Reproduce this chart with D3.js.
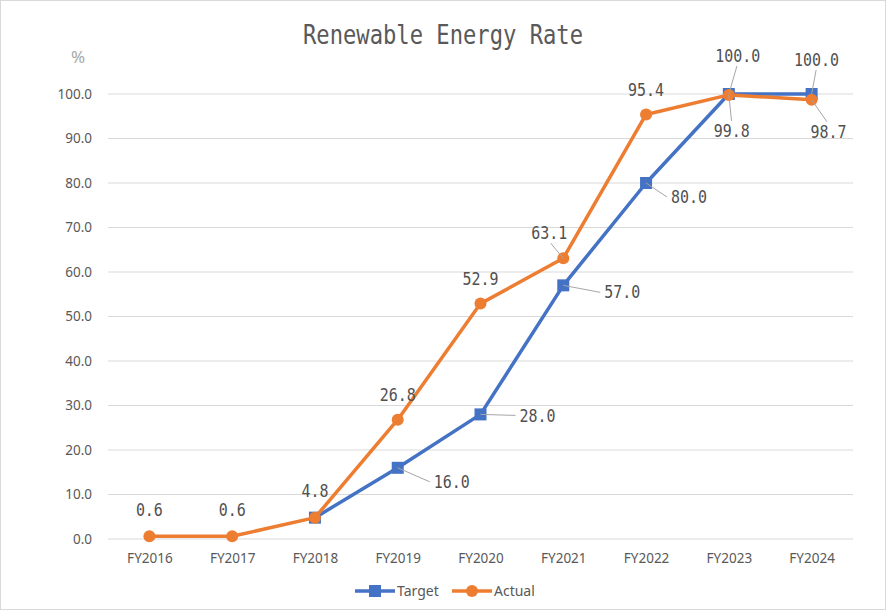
<!DOCTYPE html>
<html><head><meta charset="utf-8">
<script src="https://cdn.jsdelivr.net/npm/d3@7"></script>
<style>body{margin:0;background:#fff}svg{display:block}</style>
</head><body>
<svg id="c" width="886" height="610"></svg>
<script>
const categories = ["FY2016","FY2017","FY2018","FY2019","FY2020","FY2021","FY2022","FY2023","FY2024"];
const target = [null, null, 4.8, 16.0, 28.0, 57.0, 80.0, 100.0, 100.0];
const actual = [0.6, 0.6, 4.8, 26.8, 52.9, 63.1, 95.4, 99.8, 98.7];
const yTicks = [0,10,20,30,40,50,60,70,80,90,100];
// label placement (style): [dx, dy] of label center from point, and leader line flag
const targetLabelPos = [null, null, null, [54,14,true], [57,1,true], [59,7,true], [43,14,true], [9,-38,true], [5,-34,true]];
const actualLabelPos = [[0,-26,false],[0,-26,false],[0,-27,false],[0,-25,false],[0,-25,false],[-14,-25,true],[0,-25,false],[3,36,true],[17,32,true]];

const svg = d3.select("#c");
const W = 886, H = 610;
svg.append("rect").attr("x",0.5).attr("y",0.5).attr("width",W-1).attr("height",H-1)
  .attr("fill","#fff").attr("stroke","#d9d9d9");

const x = d3.scalePoint().domain(categories).range([108,853]).padding(0.5);
const y = d3.scaleLinear().domain([0,100]).range([539,94]);

svg.append("g").selectAll("line").data(yTicks).join("line")
  .attr("x1",108).attr("x2",853).attr("y1",d=>y(d)).attr("y2",d=>y(d))
  .attr("stroke","#d9d9d9").attr("stroke-width",1);

const yAxis = d3.axisLeft(y).tickValues(yTicks).tickFormat(d3.format(".1f")).tickSize(0).tickPadding(0);
const gy = svg.append("g").attr("transform","translate(92,0)").call(yAxis);
gy.select(".domain").remove();
gy.selectAll("text").attr("font-family","'Noto Sans', sans-serif").attr("font-size",13.5).attr("fill","#595959");

const xAxis = d3.axisBottom(x).tickSize(0).tickPadding(0);
const gx = svg.append("g").attr("transform","translate(0,553)").call(xAxis);
gx.select(".domain").remove();
gx.selectAll("text").attr("font-family","'Noto Sans', sans-serif").attr("font-size",13.5).attr("fill","#595959");

svg.append("text").attr("x",443).attr("y",44).attr("text-anchor","middle")
  .attr("font-family","'DejaVu Sans Mono', monospace").attr("font-size",27).attr("fill","#595959")
  .attr("textLength",280).attr("lengthAdjust","spacingAndGlyphs")
  .text("Renewable Energy Rate");
svg.append("text").attr("x",78).attr("y",63).attr("text-anchor","middle")
  .attr("font-family","'Noto Sans', sans-serif").attr("font-size",17).attr("fill","#a6a6a6").text("%");

const blue = "#4472C4", orange = "#ED7D31";
const line = d3.line().defined(d=>d.v!=null).x(d=>x(d.c)).y(d=>y(d.v));
const tData = categories.map((c,i)=>({c, v: target[i], i}));
const aData = categories.map((c,i)=>({c, v: actual[i], i}));

svg.append("path").datum(tData).attr("d",line).attr("fill","none").attr("stroke",blue).attr("stroke-width",3.5).attr("stroke-linejoin","round");
svg.append("g").selectAll("rect").data(tData.filter(d=>d.v!=null)).join("rect")
  .attr("x",d=>x(d.c)-6).attr("y",d=>y(d.v)-6).attr("width",12).attr("height",12).attr("fill",blue);

svg.append("path").datum(aData).attr("d",line).attr("fill","none").attr("stroke",orange).attr("stroke-width",3.5).attr("stroke-linejoin","round");
svg.append("g").selectAll("circle").data(aData).join("circle")
  .attr("cx",d=>x(d.c)).attr("cy",d=>y(d.v)).attr("r",6).attr("fill",orange);

function drawLabels(data, pos){
  const g = svg.append("g");
  data.forEach(d=>{
    const p = pos[d.i];
    if(d.v==null || !p) return;
    const s = d3.format(".1f")(d.v);
    const px = x(d.c), py = y(d.v);
    const lx = px + p[0], ly = py + p[1];
    const txtW = s.length*9;
    if(p[2]){
      let ex, ey;
      if(Math.abs(p[0]) > 30){ ex = lx - Math.sign(p[0])*(txtW/2+4); ey = ly; }
      else { ex = lx - p[0]*0.1; ey = ly - Math.sign(p[1])*10; }
      g.append("line").attr("x1",px).attr("y1",py).attr("x2",ex).attr("y2",ey)
        .attr("stroke","#a6a6a6").attr("stroke-width",1);
    }
    g.append("text").attr("x",lx).attr("y",ly).attr("dy","0.36em").attr("text-anchor","middle")
      .attr("font-family","'DejaVu Sans Mono', monospace").attr("font-size",17).attr("fill","#505050")
      .attr("textLength",txtW).attr("lengthAdjust","spacingAndGlyphs")
      .text(s);
  });
}
drawLabels(tData, targetLabelPos);
drawLabels(aData, actualLabelPos);

const lg = svg.append("g");
lg.append("line").attr("x1",355).attr("x2",395).attr("y1",591).attr("y2",591).attr("stroke",blue).attr("stroke-width",3.5);
lg.append("rect").attr("x",369).attr("y",585).attr("width",12).attr("height",12).attr("fill",blue);
lg.append("text").attr("x",397).attr("y",591).attr("dy","0.36em").attr("font-family","'Noto Sans', sans-serif").attr("font-size",14).attr("fill","#595959").text("Target");
lg.append("line").attr("x1",452).attr("x2",492).attr("y1",591).attr("y2",591).attr("stroke",orange).attr("stroke-width",3.5);
lg.append("circle").attr("cx",472).attr("cy",591).attr("r",6).attr("fill",orange);
lg.append("text").attr("x",494).attr("y",591).attr("dy","0.36em").attr("font-family","'Noto Sans', sans-serif").attr("font-size",14).attr("fill","#595959").text("Actual");
</script>
</body></html>
